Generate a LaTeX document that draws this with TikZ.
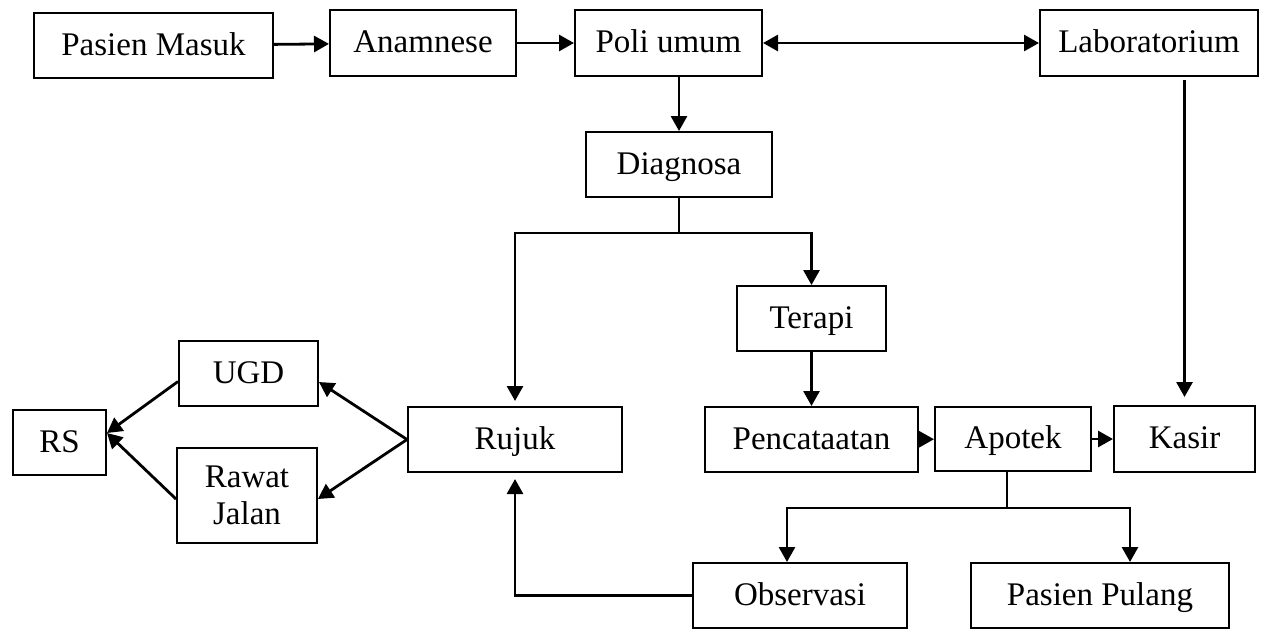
\documentclass[tikz,border=0pt]{standalone}
\usepackage{fontspec}
\setmainfont{Liberation Serif}
\usetikzlibrary{arrows.meta, positioning, calc}
\tikzset{
  boxbase/.style 2 args={
    rectangle, draw=black, line width=1pt, fill=white,
    minimum width=#1*0.5pt, minimum height=#2*0.5pt,
    inner sep=1pt, align=center, font=\fontsize{16.5}{18.5}\selectfont
  },
  flowbox/.style 2 args={boxbase={#1}{#2}, text height=12.5pt, text depth=3pt},
  tip/.style={-{Triangle[width=8pt,length=7.5pt]}},
  arrow/.style={line width=1.4pt, tip},
  link/.style={line width=0.9pt},
}

\begin{document}
\begin{tikzpicture}[x=0.5pt, y=-0.5pt]
  \useasboundingbox (0,0) rectangle (1261,632);

  % --- Baris atas: pendaftaran ---
  \node (masuk) [flowbox={239}{65}] at (153.5,45.5) {Pasien Masuk};
  \node (anamnese) [flowbox={186}{66}] at (423,43) {Anamnese};
  \node (poli) [flowbox={187}{66}] at (668.5,43) {Poli umum};
  \node (lab) [flowbox={218}{66}] at (1149,43) {Laboratorium};

  % --- Diagnosa dan terapi ---
  \node (diagnosa) [flowbox={186}{65}] at (679,164.5) {Diagnosa};
  \node (terapi) [flowbox={149}{65}] at (811.5,318.5) {Terapi};

  % --- Rujukan ---
  \node (ugd) [flowbox={139}{65}] at (248.5,373.5) {UGD};
  \node (rs) [flowbox={93}{65}] at (59.5,442.5) {RS};
  \node (rawat) [boxbase={140}{95}] at (247,495.5) {Rawat\\Jalan};
  \node (rujuk) [flowbox={214}{65}] at (515,439.5) {Rujuk};

  % --- Baris tengah: pencatatan sampai kasir ---
  \node (catat) [flowbox={213}{65}] at (811.5,439.5) {Pencataatan};
  \node (apotek) [flowbox={156}{64}] at (1013,439) {Apotek};
  \node (kasir) [flowbox={141}{66}] at (1184.5,439) {Kasir};

  % --- Baris bawah ---
  \node (observasi) [flowbox={214}{65}] at (800,595.5) {Observasi};
  \node (pulang) [flowbox={258}{65}] at (1100,595.5) {Pasien Pulang};

  % --- Alur utama ---
  \draw[arrow] (masuk) -- (anamnese);
  \draw[arrow] (anamnese) -- (poli);
  \draw[arrow, {Triangle[width=8pt,length=7.5pt]}-{Triangle[width=8pt,length=7.5pt]}] (poli) -- (lab);
  \draw[arrow] (diagnosa.north |- poli.south) -- (diagnosa.north);

  % --- Cabang dari diagnosa ---
  \draw[link] (diagnosa.south) -- ++(0,35) coordinate (cabang1);
  \draw[arrow] (cabang1) -| ([yshift=2.5pt]rujuk.north);
  \draw[arrow] (cabang1) -| (terapi.north);
  \draw[arrow] (terapi) -- (catat);

  % --- Laboratorium ke kasir ---
  \draw[arrow] ($(lab.south -| kasir.north)+(0,3)$) -- ([yshift=4pt]kasir.north);
  \draw[arrow] (catat) -- (apotek);
  \draw[arrow] (apotek) -- (kasir);

  % --- Cabang dari apotek ---
  \draw[link] ($(apotek.south)+(-6,0)$) -- ++(0,36) coordinate (cabang2);
  \draw[arrow] (cabang2) -| ($(observasi.north)+(-13,0)$);
  \draw[arrow] (cabang2) -| ($(pulang.north)+(30,0)$);
  \draw[arrow] (observasi.west) -| ([yshift=-3pt]rujuk.south);

  % --- Rujukan ke RS ---
  \draw[arrow] (rujuk.west) -- ([yshift=-4.25pt]ugd.east);
  \draw[arrow] (rujuk.west) -- ([yshift=-1.75pt]rawat.east);
  \draw[arrow] ([yshift=-4pt]ugd.west) -- ([yshift=4.75pt]rs.east);
  \draw[arrow] ([yshift=-1.75pt]rawat.west) -- ([yshift=4.75pt]rs.east);

\end{tikzpicture}
\end{document}
